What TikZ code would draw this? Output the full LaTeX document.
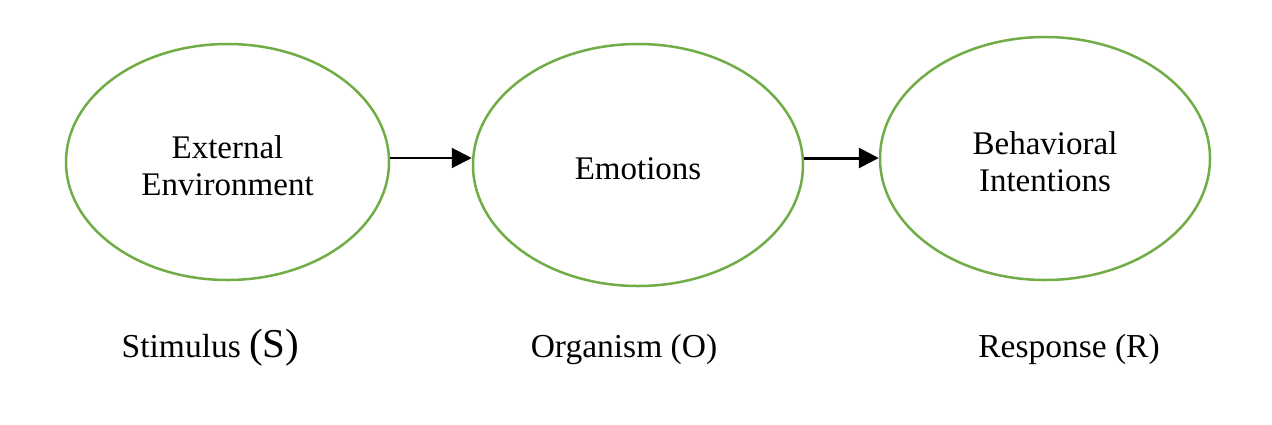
\documentclass[tikz,border=0pt]{standalone}
\usepackage{fontspec}
\setmainfont{Liberation Serif}
\usetikzlibrary{arrows.meta,shapes.geometric}
\definecolor{ogreen}{RGB}{112,173,71}
\newcommand{\dn}[1]{\raisebox{-3.5pt}[\height][\depth]{#1}}
\tikzset{
  oval/.style={ellipse, draw=ogreen, line width=2.5pt, inner sep=0pt, align=center,
    font=\fontsize{33}{37}\selectfont},
  flow/.style={-{Triangle[length=20pt,width=20pt]}, black},
  lbl/.style={anchor=base, inner sep=0pt, font=\fontsize{33.5}{37}\selectfont}
}
\begin{document}
\begin{tikzpicture}[x=1pt,y=-1pt]
\useasboundingbox[fill=white] (0,0) rectangle (1272,424);
\node[oval, minimum width=323pt, minimum height=236pt] (e1) at (227.5,162) {\dn{External}\\\dn{Environment}};
\node[oval, minimum width=330pt, minimum height=242pt] (e2) at (638,165) {\dn{Emotions}};
\node[oval, minimum width=330pt, minimum height=243pt] (e3) at (1045,158.5) {\dn{Behavioral}\\\dn{Intentions}};
\draw[flow, line width=2pt] (e1.east |- 0,158) -- (e2.west |- 0,158);
\draw[flow, line width=3pt] (e2.east |- 0,158) -- (e3.west |- 0,158);
\node[lbl] (s) at (210.5,357) {Stimulus \fontsize{41}{44}\selectfont(S)};
\node[lbl] (o) at (624,357) {Organism (O)};
\node[lbl] (r) at (1069,357) {Response (R)};
\end{tikzpicture}
\end{document}
